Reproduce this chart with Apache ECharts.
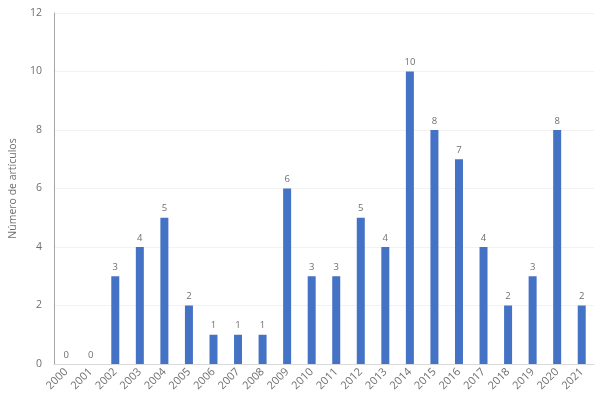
<!DOCTYPE html>
<html>
<head>
<meta charset="utf-8">
<script src="https://cdn.jsdelivr.net/npm/echarts@6/dist/echarts.min.js"></script>
<style>
  html, body { margin: 0; padding: 0; background: #fff; }
  #chart { width: 605px; height: 409px; }
</style>
</head>
<body>
<div id="chart"></div>
<script>
const years = ['2000', '2001', '2002', '2003', '2004', '2005', '2006', '2007', '2008', '2009', '2010',
  '2011', '2012', '2013', '2014', '2015', '2016', '2017', '2018', '2019', '2020', '2021']
const articles = [0, 0, 3, 4, 5, 2, 1, 1, 1, 6, 3, 3, 5, 4, 10, 8, 7, 4, 2, 3, 8, 2]
const yTitle = 'Número de artículos'

const txt = '#6f6f6f'
const chart = echarts.init(document.getElementById('chart'))
chart.setOption({
  animation: false,
  grid: { left: 46, right: 11, top: 13, bottom: 45 },
  xAxis: {
    type: 'category',
    data: years,
    axisLine: { lineStyle: { color: '#d9d9d9' } },
    axisTick: { show: false },
    axisLabel: {
      interval: 0,
      rotate: 45,
      color: txt,
      fontFamily: 'Open Sans',
      fontSize: 11,
      margin: 6
    }
  },
  yAxis: {
    type: 'value',
    min: 0,
    max: 12,
    interval: 2,
    name: yTitle,
    nameLocation: 'middle',
    nameGap: 31,
    nameTextStyle: { color: txt, fontFamily: 'Open Sans', fontSize: 10.5 },
    axisLine: { show: true, lineStyle: { color: '#a6a6a6' } },
    axisTick: { show: false },
    splitLine: { lineStyle: { color: '#f2f2f2' } },
    axisLabel: { color: txt, fontFamily: 'Open Sans', fontSize: 10.5, margin: 12 }
  },
  series: [{
    type: 'bar',
    data: articles,
    barWidth: 8,
    itemStyle: { color: '#4472c4' },
    label: {
      show: true,
      position: 'top',
      color: txt,
      fontFamily: 'Open Sans',
      fontSize: 9.5,
      distance: 4
    }
  }]
})
</script>
</body>
</html>
